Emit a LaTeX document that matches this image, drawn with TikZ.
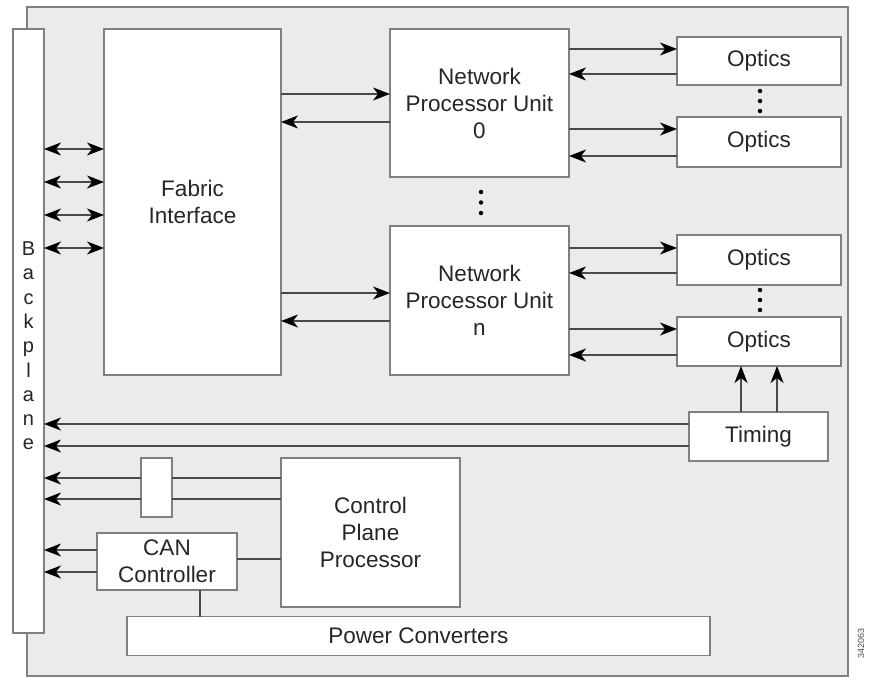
\documentclass[tikz,border=0pt]{standalone}
\usepackage{fontspec}
\setmainfont{Liberation Sans}
\usetikzlibrary{arrows.meta}
\definecolor{panelbg}{HTML}{EBEBEB}
\definecolor{edge}{HTML}{808080}
\definecolor{wire}{HTML}{4A4A4A}
\tikzset{
  box/.style={draw=edge, line width=1.4pt, fill=white, inner sep=0pt, outer sep=0pt,
    align=center, font=\fontsize{22.5}{27}\selectfont, text=black!85},
  wirel/.style={draw=wire, line width=1.4pt},
  tip/.tip={Stealth[length=17pt,width=13pt,inset=5pt,black]},
  arr/.style={wirel, -tip},
  barr/.style={wirel, tip-tip},
  dot/.style={circle, fill=black, inner sep=0pt, minimum size=4.5pt}
}
\begin{document}
\begin{tikzpicture}[x=1pt,y=-1pt]
\useasboundingbox (0,0) rectangle (869,677);
\fill[white] (0,0) rectangle (869,677);
\draw[edge, fill=panelbg, line width=1.4pt] (27,7) rectangle (848,676);

% boxes
\node[box, minimum width=31pt, minimum height=604pt] (bp) at (28.5,331) {};
\node[align=center, font=\fontsize{20}{24.3}\selectfont, text=black!85] (bptxt) at (28.5,346)
  {B\\a\\c\\k\\p\\l\\a\\n\\e};
\node[box, minimum width=177pt, minimum height=346pt] (fab) at (192.5,202) {Fabric\\Interface};
\node[box, minimum width=179pt, minimum height=148pt] (npu0) at (479.5,103) {Network\\Processor Unit\\0};
\node[box, minimum width=179pt, minimum height=149pt] (npun) at (479.5,300.5) {Network\\Processor Unit\\n};
\node[box, minimum width=164pt, minimum height=48pt] (op1) at (759,61) {Optics};
\node[box, minimum width=164pt, minimum height=50pt] (op2) at (759,142) {Optics};
\node[box, minimum width=164pt, minimum height=50pt] (op3) at (759,260) {Optics};
\node[box, minimum width=164pt, minimum height=49pt] (op4) at (759,341.5) {Optics};
\node[box, minimum width=139pt, minimum height=49pt] (tim) at (758.5,436.5) {Timing};
\node[box, minimum width=179pt, minimum height=149pt] (cpp) at (370.5,532.5) {Control\\Plane\\Processor};
\node[box, minimum width=31pt, minimum height=59pt] (sb) at (156.5,487.5) {};
\node[box, minimum width=140pt, minimum height=57pt] (can) at (167,561.5) {CAN\\Controller};
\node[box, minimum width=583pt, minimum height=39pt] (pwr) at (418.5,636) {Power Converters};

% dots
\foreach \y [count=\i] in {192,202.5,213} \node[dot] (d0\i) at (481,\y) {};
\foreach \y [count=\i] in {91,101,111} \node[dot] (d1\i) at (760,\y) {};
\foreach \y [count=\i] in {290,300,310} \node[dot] (d2\i) at (760,\y) {};

% backplane <-> fabric
\foreach \y in {149,182,215,248}
  \draw[barr] (bp.east |- 0,\y) -- (fab.west |- 0,\y);

% fabric <-> NPUs
\draw[arr] (fab.east |- 0,94) -- (npu0.west |- 0,94);
\draw[arr] (npu0.west |- 0,122) -- (fab.east |- 0,122);
\draw[arr] (fab.east |- 0,293) -- (npun.west |- 0,293);
\draw[arr] (npun.west |- 0,321) -- (fab.east |- 0,321);

% NPUs <-> optics
\draw[arr] (npu0.east |- 0,49) -- (op1.west |- 0,49);
\draw[arr] (op1.west |- 0,74) -- (npu0.east |- 0,74);
\draw[arr] (npu0.east |- 0,129) -- (op2.west |- 0,129);
\draw[arr] (op2.west |- 0,156) -- (npu0.east |- 0,156);
\draw[arr] (npun.east |- 0,248) -- (op3.west |- 0,248);
\draw[arr] (op3.west |- 0,273) -- (npun.east |- 0,273);
\draw[arr] (npun.east |- 0,329) -- (op4.west |- 0,329);
\draw[arr] (op4.west |- 0,355) -- (npun.east |- 0,355);

% timing
\draw[arr] (tim.north -| 741,0) -- (op4.south -| 741,0);
\draw[arr] (tim.north -| 777,0) -- (op4.south -| 777,0);
\draw[arr] (tim.west |- 0,424) -- (bp.east |- 0,424);
\draw[arr] (tim.west |- 0,446) -- (bp.east |- 0,446);

% control plane
\draw[wirel] (cpp.west |- 0,478) -- (sb.east |- 0,478);
\draw[wirel] (cpp.west |- 0,499) -- (sb.east |- 0,499);
\draw[arr] (sb.west |- 0,478) -- (bp.east |- 0,478);
\draw[arr] (sb.west |- 0,499) -- (bp.east |- 0,499);

% CAN
\draw[arr] (can.west |- 0,550) -- (bp.east |- 0,550);
\draw[arr] (can.west |- 0,572) -- (bp.east |- 0,572);
\draw[wirel] (can.east |- 0,559) -- (cpp.west |- 0,559);
\draw[wirel] (can.south -| 200,0) -- (pwr.north -| 200,0);

\node[rotate=90, font=\fontsize{9}{10}\selectfont, text=black!70] (id) at (861,643) {342063};
\end{tikzpicture}
\end{document}
